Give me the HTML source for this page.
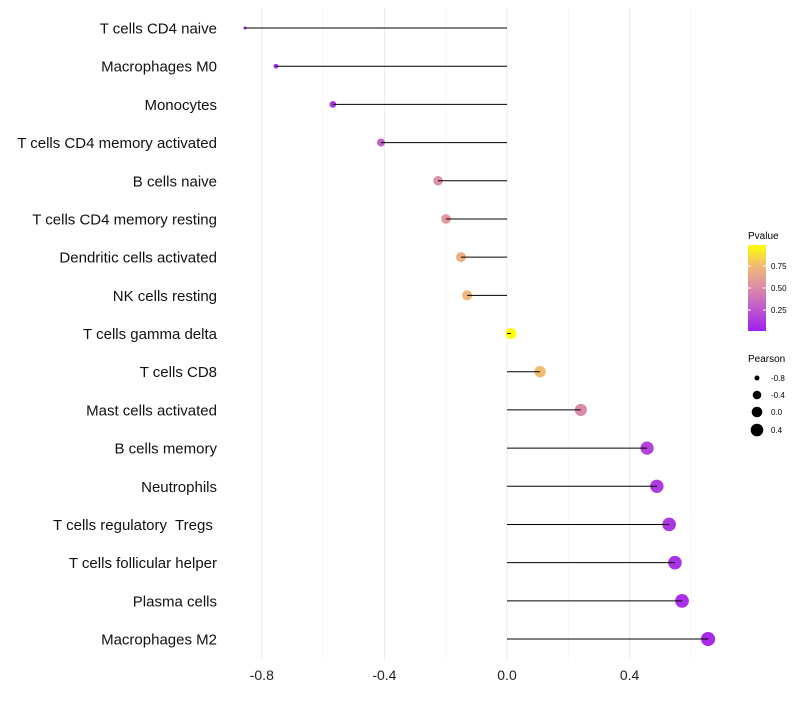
<!DOCTYPE html>
<html><head><meta charset="utf-8"><style>
body{margin:0;background:#fff;font-family:"Liberation Sans",sans-serif;}
</style></head><body>
<svg id="chart" width="800" height="700" xmlns="http://www.w3.org/2000/svg">
<defs><linearGradient id="pg" x1="0" y1="1" x2="0" y2="0">
<stop offset="0" stop-color="#a020f0"/><stop offset="0.5" stop-color="#dc8ca8"/><stop offset="0.75" stop-color="#f0b878"/><stop offset="1" stop-color="#ffff00"/>
</linearGradient></defs>
<g id="grid"></g><g id="points"></g><g id="marks"></g><g id="labels"></g>
<g font-size="10">
<text x="748" y="239">Pvalue</text>
<rect x="748" y="245" width="18" height="86" fill="url(#pg)"/>
<line x1="748" y1="266" x2="751" y2="266" stroke="#fff"/><line x1="763" y1="266" x2="766" y2="266" stroke="#fff"/>
<line x1="748" y1="288" x2="751" y2="288" stroke="#fff"/><line x1="763" y1="288" x2="766" y2="288" stroke="#fff"/>
<line x1="748" y1="310" x2="751" y2="310" stroke="#fff"/><line x1="763" y1="310" x2="766" y2="310" stroke="#fff"/>
<text x="771" y="269" font-size="8">0.75</text><text x="771" y="291" font-size="8">0.50</text><text x="771" y="313" font-size="8">0.25</text>
</g>
<g>
<text x="748" y="362" font-size="10">Pearson</text>
<circle cx="757" cy="378" r="2.5"/><text x="771" y="381" font-size="8">-0.8</text>
<circle cx="757" cy="395" r="4.3"/><text x="771" y="398" font-size="8">-0.4</text>
<circle cx="757" cy="412" r="5.3"/><text x="771" y="415" font-size="8">0.0</text>
<circle cx="757" cy="430" r="6.3"/><text x="771" y="433" font-size="8">0.4</text>
</g>
</svg>
<script>
const categories=["T cells CD4 naive","Macrophages M0","Monocytes","T cells CD4 memory activated","B cells naive","T cells CD4 memory resting","Dendritic cells activated","NK cells resting","T cells gamma delta","T cells CD8","Mast cells activated","B cells memory","Neutrophils","T cells regulatory  Tregs ","T cells follicular helper","Plasma cells","Macrophages M2"];
const pearson=[-0.855,-0.754,-0.568,-0.411,-0.225,-0.199,-0.150,-0.130,0.013,0.108,0.241,0.457,0.489,0.529,0.548,0.571,0.656];
const pvalue=[0.02,0.05,0.1,0.3,0.5,0.55,0.68,0.72,0.97,0.74,0.47,0.15,0.12,0.1,0.08,0.07,0.05];
const xTicks=[-0.8,-0.4,0.0,0.4];
const xTickLabels=["-0.8","-0.4","0.0","0.4"];
const minorTicks=[-0.6,-0.2,0.2,0.6];
const NS="http://www.w3.org/2000/svg";
function xs(v){return 507+v*306.5;}
function ys(i){return 28+i*38.19;}
function rs(v){return Math.sqrt(2.25+Math.max(0,v+0.86)*31.5);}
function lerp(a,b,t){return a.map((x,i)=>Math.round(x+(b[i]-x)*t));}
const stops=[[0,[160,32,240]],[0.5,[220,140,168]],[0.75,[240,184,120]],[1,[255,255,0]]];
function col(p){const t=Math.max(0,Math.min(1,p/0.97));
for(let k=1;k<stops.length;k++){if(t<=stops[k][0]){const a=stops[k-1],b=stops[k];return `rgb(${lerp(a[1],b[1],(t-a[0])/(b[0]-a[0]))})`;}}
return 'rgb(255,255,0)';}
function mk(tag,at,parent){const e=document.createElementNS(NS,tag);for(const k in at)e.setAttribute(k,at[k]);parent.appendChild(e);return e;}
const grid=document.getElementById('grid'),marks=document.getElementById('marks'),labels=document.getElementById('labels'),points=document.getElementById('points');
minorTicks.forEach(v=>{const l=mk('line',{x1:xs(v),x2:xs(v),y1:8,y2:660,stroke:'#f3f3f3','stroke-width':0.6},grid);

});
xTicks.forEach((v,i)=>{const l=mk('line',{x1:xs(v),x2:xs(v),y1:8,y2:660,stroke:'#ebebeb','stroke-width':1},grid);


const t=mk('text',{x:xs(v),y:680,'text-anchor':'middle','font-size':14,fill:'#222'},labels);t.textContent=xTickLabels[i];

});
categories.forEach((c,i)=>{const y=ys(i);
const t=mk('text',{x:217,y:y+5.5,'text-anchor':'end','font-size':15,fill:'#111','xml:space':'preserve',style:'white-space:pre'},labels);t.textContent=c;


const d=mk('circle',{cx:xs(pearson[i]),cy:y,r:rs(pearson[i]),fill:col(pvalue[i])},points);


const l=mk('line',{x1:xs(0),x2:xs(pearson[i]),y1:y,y2:y,stroke:'#000','stroke-width':1},marks);

});
</script>
</body></html>
